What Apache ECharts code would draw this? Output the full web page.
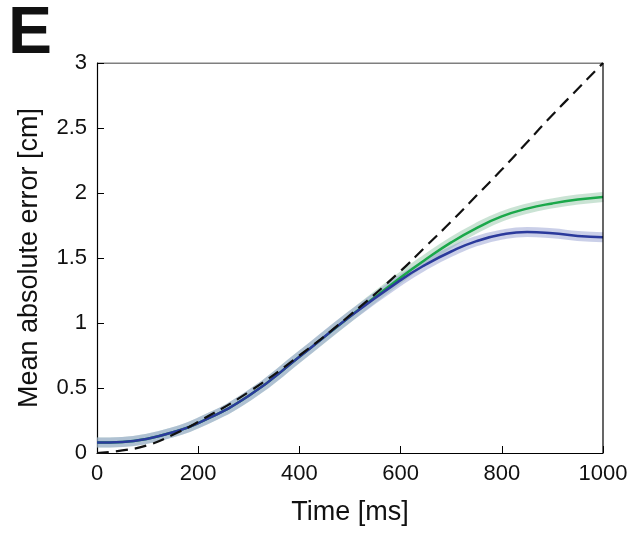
<!DOCTYPE html>
<html>
<head>
<meta charset="UTF-8">
<style>html,body{margin:0;background:#fff}#main{width:634px;height:540px}</style>
</head>
<body>
<div id="main"></div>
<script src="https://cdn.jsdelivr.net/npm/echarts@6/dist/echarts.min.js"></script>
<script>
// time points in ms
const times = [0, 50, 100, 150, 200, 300, 400, 500, 600, 650, 700, 750, 800, 850, 900, 950, 1000];
const blueErr = [0.08, 0.085, 0.11, 0.16, 0.23, 0.44, 0.74, 1.05, 1.33, 1.45, 1.55, 1.63, 1.68, 1.70, 1.69, 1.67, 1.66];
const greenErr = [0.08, 0.085, 0.11, 0.16, 0.23, 0.44, 0.74, 1.05, 1.35, 1.49, 1.62, 1.73, 1.82, 1.88, 1.92, 1.95, 1.97];
const dashErr = [0, 0.02, 0.06, 0.14, 0.24, 0.47, 0.75, 1.06, 1.40, 1.59, 1.78, 1.98, 2.18, 2.39, 2.60, 2.80, 3.0];

const pair = arr => times.map((t, i) => [t, arr[i]]);
const font = 'Liberation Sans, Arial, sans-serif';
const chart = echarts.init(document.getElementById('main'));
chart.setOption({
  animation: false,
  grid: {left: 97, right: 31, top: 63, bottom: 87},
  graphic: [{type: 'text', left: 8, top: 2, style: {text: 'E', font: 'bold 66px ' + font, fill: '#111'}}],
  xAxis: {
    type: 'value', min: 0, max: 1000, interval: 200,
    name: 'Time [ms]', nameLocation: 'middle', nameGap: 46,
    nameTextStyle: {fontSize: 27, fontFamily: font, color: '#111'},
    axisLine: {show: true, lineStyle: {color: '#000', width: 1.2}},
    axisTick: {inside: true, length: 7, lineStyle: {color: '#000'}},
    axisLabel: {fontSize: 22, fontFamily: font, color: '#111', margin: 10, formatter: v => String(v)},
    splitLine: {show: false}
  },
  yAxis: {
    type: 'value', min: 0, max: 3, interval: 0.5,
    name: 'Mean absolute error [cm]', nameLocation: 'middle', nameGap: 54,
    nameTextStyle: {fontSize: 27, fontFamily: font, color: '#111'},
    axisLine: {show: true, lineStyle: {color: '#000', width: 1.2}},
    axisTick: {inside: true, length: 7, lineStyle: {color: '#000'}},
    axisLabel: {fontSize: 22, fontFamily: font, color: '#111', margin: 10},
    splitLine: {show: false}
  },
  series: [
    {type: 'line', data: pair(greenErr), smooth: true, symbol: 'none', lineStyle: {color: 'rgba(150,200,170,0.5)', width: 10}, z: 1},
    {type: 'line', data: pair(blueErr), smooth: true, symbol: 'none', lineStyle: {color: 'rgba(150,160,210,0.5)', width: 10}, z: 1},
    {type: 'line', data: pair(greenErr), smooth: true, symbol: 'none', lineStyle: {color: '#1aa84a', width: 2.5}, z: 2},
    {type: 'line', data: pair(blueErr), smooth: true, symbol: 'none', lineStyle: {color: '#2b3a9c', width: 2.5}, z: 3},
    {type: 'line', data: pair(dashErr), smooth: true, symbol: 'none', lineStyle: {color: '#111', width: 2.2, type: [12, 7]}, z: 4},
    // top/right box
    {type: 'line', data: [[0, 3], [1000, 3], [1000, 0]], symbol: 'none', lineStyle: {color: '#000', width: 1.2}, z: 5, silent: true}
  ]
});
</script>
</body>
</html>
